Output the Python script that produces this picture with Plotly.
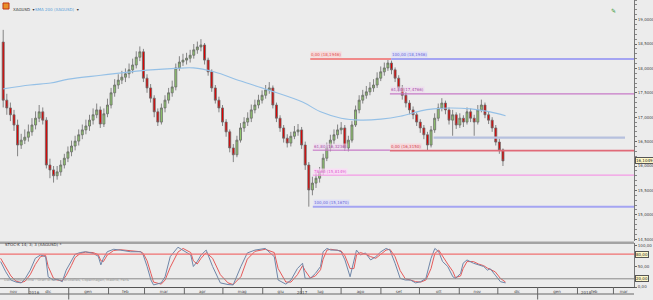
import pandas as pd
import plotly.graph_objects as go

# ---------------- data ----------------
candle_dates = pd.date_range("2016-11-11", "2017-12-05", periods=140)
first_open = 18.54
closes = [17.35, 17.19, 17.05, 16.84, 16.43, 16.53, 16.59, 16.70, 16.84, 16.98,
          17.11, 16.94, 16.02, 15.92, 15.80, 15.88, 16.02, 16.16, 16.29, 16.41,
          16.51, 16.64, 16.74, 16.82, 16.94, 17.05, 17.15, 16.86, 17.07, 17.25,
          17.50, 17.66, 17.76, 17.82, 17.89, 17.97, 18.07, 18.23, 18.34, 17.80,
          17.60, 17.39, 17.11, 16.90, 17.19, 17.35, 17.50, 17.62, 18.01, 18.13,
          18.17, 18.21, 18.27, 18.38, 18.44, 18.48, 18.17, 17.93, 17.60, 17.35,
          17.19, 16.90, 16.70, 16.37, 16.23, 16.53, 16.78, 16.90, 16.98, 17.15,
          17.25, 17.35, 17.45, 17.56, 17.60, 17.25, 16.98, 16.78, 16.57, 16.47,
          16.61, 16.70, 16.74, 16.43, 16.02, 15.51, 15.65, 15.75, 15.88, 16.16,
          16.37, 16.53, 16.64, 16.74, 16.78, 16.37, 16.53, 16.84, 17.15, 17.35,
          17.45, 17.52, 17.60, 17.66, 17.80, 17.93, 18.01, 18.11, 17.97, 17.80,
          17.60, 17.45, 17.29, 17.15, 17.05, 16.90, 16.78, 16.64, 16.43, 16.74,
          16.98, 17.19, 17.29, 17.15, 16.94, 17.05, 16.84, 16.98, 16.90, 17.11,
          16.98, 16.90, 17.15, 17.25, 17.05, 16.94, 16.78, 16.49, 16.33, 16.1049]
highs = [18.79, 17.48, 17.30, 17.15, 16.95, 16.66, 16.75, 16.85, 16.98, 17.12,
         17.25, 17.20, 17.00, 16.15, 16.00, 16.00, 16.12, 16.25, 16.40, 16.52,
         16.62, 16.75, 16.85, 16.95, 17.05, 17.18, 17.28, 17.22, 17.18, 17.38,
         17.60, 17.78, 17.88, 17.95, 18.00, 18.10, 18.20, 18.35, 18.45, 18.40,
         17.88, 17.68, 17.45, 17.18, 17.28, 17.45, 17.60, 17.75, 18.10, 18.25,
         18.30, 18.32, 18.38, 18.50, 18.55, 18.60, 18.52, 18.22, 17.98, 17.66,
         17.42, 17.25, 16.96, 16.75, 16.45, 16.62, 16.88, 17.00, 17.10, 17.26,
         17.36, 17.46, 17.55, 17.66, 17.72, 17.65, 17.30, 17.04, 16.84, 16.65,
         16.70, 16.82, 16.86, 16.80, 16.50, 16.08, 15.78, 15.86, 15.98, 16.25,
         16.48, 16.64, 16.75, 16.85, 16.90, 16.84, 16.62, 16.92, 17.24, 17.45,
         17.56, 17.64, 17.72, 17.78, 17.92, 18.04, 18.12, 18.1946, 18.16, 18.02,
         17.86, 17.66, 17.52, 17.35, 17.22, 17.10, 16.96, 16.84, 16.70, 16.82,
         17.08, 17.28, 17.39, 17.34, 17.20, 17.15, 17.10, 17.08, 17.04, 17.20,
         17.18, 17.05, 17.25, 17.36, 17.30, 17.12, 17.00, 16.84, 16.56, 16.36]
lows = [17.20, 17.05, 16.92, 16.72, 16.20, 16.35, 16.45, 16.50, 16.62, 16.75,
        16.90, 16.85, 15.95, 15.75, 15.66, 15.72, 15.80, 15.95, 16.08, 16.20,
        16.32, 16.42, 16.55, 16.65, 16.72, 16.85, 16.98, 16.78, 16.80, 17.00,
        17.18, 17.42, 17.58, 17.68, 17.72, 17.80, 17.90, 18.00, 18.15, 17.72,
        17.50, 17.30, 17.00, 16.82, 16.85, 17.10, 17.28, 17.42, 17.55, 17.95,
        18.05, 18.08, 18.12, 18.20, 18.30, 18.35, 18.08, 17.85, 17.52, 17.28,
        17.10, 16.82, 16.60, 16.28, 16.08, 16.18, 16.48, 16.70, 16.82, 16.90,
        17.08, 17.18, 17.28, 17.38, 17.48, 17.18, 16.90, 16.70, 16.48, 16.38,
        16.40, 16.55, 16.62, 16.35, 15.92, 15.167, 15.40, 15.55, 15.66, 15.82,
        16.10, 16.30, 16.45, 16.56, 16.65, 16.31, 16.30, 16.48, 16.80, 17.08,
        17.28, 17.38, 17.45, 17.52, 17.60, 17.74, 17.85, 17.95, 17.88, 17.72,
        17.52, 17.36, 17.20, 17.06, 16.96, 16.82, 16.68, 16.55, 16.315, 16.38,
        16.68, 16.92, 17.12, 17.06, 16.85, 16.62, 16.76, 16.78, 16.80, 16.85,
        16.90, 16.62, 16.85, 17.10, 16.98, 16.86, 16.70, 16.42, 16.25, 16.00]
opens = [first_open] + closes[:-1]

sma_dates = ["2016-11-11", "2016-12-02", "2016-12-18", "2017-01-01", "2017-01-26",
             "2017-02-18", "2017-03-06", "2017-03-25", "2017-04-08", "2017-04-24",
             "2017-05-15", "2017-06-05", "2017-07-02", "2017-07-16", "2017-08-01",
             "2017-08-16", "2017-09-01", "2017-09-16", "2017-10-02", "2017-10-12",
             "2017-10-25", "2017-11-10", "2017-11-25", "2017-12-07"]
sma_vals = [17.58, 17.66, 17.70, 17.78, 17.86, 17.93, 17.97, 18.00, 18.01, 17.93,
            17.74, 17.56, 17.31, 17.11, 16.98, 16.94, 16.96, 17.02, 17.13, 17.17,
            17.19, 17.17, 17.11, 17.03]

stoch_dates = ["2016-11-09", "2016-11-13", "2016-11-17", "2016-11-21", "2016-11-25", "2016-11-28", "2016-12-02", "2016-12-06", "2016-12-10", "2016-12-14",
               "2016-12-16", "2016-12-20", "2016-12-23", "2016-12-27", "2016-12-30", "2017-01-03", "2017-01-06", "2017-01-10", "2017-01-14", "2017-01-20",
               "2017-01-24", "2017-01-26", "2017-01-28", "2017-01-31", "2017-02-05", "2017-02-10", "2017-02-18", "2017-02-26", "2017-02-28", "2017-03-03",
               "2017-03-06", "2017-03-08", "2017-03-14", "2017-03-17", "2017-03-21", "2017-03-27", "2017-03-31", "2017-04-06", "2017-04-08", "2017-04-11",
               "2017-04-14", "2017-04-18", "2017-04-23", "2017-04-29", "2017-05-05", "2017-05-09", "2017-05-15", "2017-05-20", "2017-05-26", "2017-06-03",
               "2017-06-10", "2017-06-13", "2017-06-19", "2017-06-23", "2017-06-28", "2017-07-02", "2017-07-04", "2017-07-08", "2017-07-12", "2017-07-16",
               "2017-07-18", "2017-07-21", "2017-07-24", "2017-07-29", "2017-08-01", "2017-08-04", "2017-08-08", "2017-08-11", "2017-08-13", "2017-08-16",
               "2017-08-20", "2017-08-24", "2017-08-28", "2017-09-01", "2017-09-05", "2017-09-08", "2017-09-12", "2017-09-16", "2017-09-20", "2017-09-24",
               "2017-09-28", "2017-10-02", "2017-10-06", "2017-10-10", "2017-10-13", "2017-10-16", "2017-10-19", "2017-10-23", "2017-10-27", "2017-10-29",
               "2017-11-02", "2017-11-04", "2017-11-07", "2017-11-12", "2017-11-16", "2017-11-20", "2017-11-23", "2017-11-25", "2017-11-29", "2017-12-03",
               "2017-12-07"]
stoch_k = [62, 37, 17, 12, 10, 20, 41, 70, 78, 74,
           25, 17, 19, 13, 41, 62, 80, 84, 86, 82,
           75, 54, 70, 86, 92, 90, 86, 86, 78, 50,
           17, 5, 10, 25, 74, 97, 90, 78, 50, 62,
           78, 90, 50, 10, 6, 5, 50, 83, 90, 94,
           74, 17, 7, 17, 45, 58, 21, 21, 33, 50,
           86, 94, 90, 90, 86, 66, 25, 66, 90, 78,
           83, 66, 74, 86, 94, 90, 58, 21, 17, 17,
           10, 13, 21, 70, 94, 86, 62, 50, 25, 21,
           33, 58, 66, 58, 54, 50, 41, 45, 29, 13,
           10]
stoch_d = [70, 50, 27, 14, 11, 14, 30, 55, 74, 77,
           50, 22, 17, 15, 28, 52, 72, 82, 85, 84,
           79, 64, 62, 78, 89, 91, 88, 86, 82, 64,
           33, 12, 7, 17, 48, 85, 94, 84, 64, 56,
           70, 84, 70, 30, 10, 6, 25, 68, 87, 92,
           84, 45, 12, 12, 30, 52, 40, 22, 27, 42,
           68, 90, 92, 90, 88, 76, 45, 45, 78, 84,
           80, 74, 70, 80, 90, 92, 74, 40, 20, 17,
           13, 12, 17, 45, 82, 90, 74, 56, 38, 23,
           27, 45, 62, 62, 56, 52, 46, 43, 37, 21,
           12]

fib_labels = ["0,00 (18,1946)", "100,00 (18,1946)", "61,80 (17,4766)", "61,80 (16,3236)",
              "0,00 (16,3150)", "78,60 (15,8149)", "100,00 (15,1670)"]
fib_values = [18.1946, 18.1946, 17.4766, 16.3236, 16.3150, 15.8149, 15.1670]
fib_start = ["2017-07-08", "2017-09-09", "2017-09-08", "2017-07-10", "2017-09-08", "2017-07-10", "2017-07-10"]
fib_end = ["2017-09-09", "2018-03-25", "2018-03-25", "2017-09-08", "2018-03-25", "2018-03-25", "2018-03-25"]
fib_colors = ["#f08a8a", "#a4a4f2", "#c77ac7", "#c77ac7", "#e06a78", "#f49ae6", "#a4a4f2"]
fib_text_colors = ["#e05050", "#6a6ad8", "#a850a8", "#a850a8", "#d04050", "#e060d0", "#6a6ad8"]
fib_widths = [2, 2, 1.3, 1.3, 1.8, 1.3, 2]
fib_bg = ["rgba(255,205,205,0.6)", "rgba(215,215,255,0.6)", "rgba(240,215,240,0.6)", "rgba(240,215,240,0.6)",
          "rgba(255,205,210,0.6)", "rgba(255,215,250,0.7)", "rgba(215,215,255,0.6)"]

support_dates = ["2017-10-12", "2018-03-10"]
support_value = 16.58

last_price_label = "16,1049"

month_labels = ["nov", "dic", "gen", "feb", "mar", "apr", "mag", "giu", "lug", "ago",
                "set", "ott", "nov", "dic", "gen", "feb", "mar"]
month_centers = ["2016-11-19", "2016-12-16", "2017-01-16", "2017-02-14", "2017-03-16", "2017-04-15",
                 "2017-05-16", "2017-06-15", "2017-07-16", "2017-08-16", "2017-09-15", "2017-10-16",
                 "2017-11-15", "2017-12-16", "2018-01-16", "2018-02-14", "2018-03-09"]
month_starts = ["2016-12-01", "2017-01-01", "2017-02-01", "2017-03-01", "2017-04-01", "2017-05-01",
                "2017-06-01", "2017-07-01", "2017-08-01", "2017-09-01", "2017-10-01", "2017-11-01",
                "2017-12-01", "2018-01-01", "2018-02-01", "2018-03-01"]
year_labels = ["2016", "2017", "2018"]
year_centers = ["2016-12-05", "2017-07-02", "2018-02-08"]
year_starts = ["2017-01-01", "2018-01-01"]

x_range = ["2016-11-08 12:00", "2018-03-17"]

# ---------------- figure ----------------
H_PLOT = 287.0  # plot-area height in px
def py(px):  # px from top -> paper y
    return (H_PLOT - px) / H_PLOT

FONT = "DejaVu Sans"
BG = "#ececec"
fig = go.Figure()

fig.add_trace(go.Candlestick(
    x=candle_dates, open=opens, high=highs, low=lows, close=closes,
    xaxis="x", yaxis="y", showlegend=False, whiskerwidth=0,
    increasing=dict(fillcolor="#8fc66c", line=dict(color="#6a6a6a", width=0.8)),
    decreasing=dict(fillcolor="#e00000", line=dict(color="#6a6a6a", width=0.8)),
    hoverinfo="skip"))

fig.add_trace(go.Scatter(x=sma_dates, y=sma_vals, mode="lines", xaxis="x", yaxis="y",
                         line=dict(color="#95c0e6", width=1.1, shape="spline"),
                         showlegend=False, hoverinfo="skip"))

for lab, v, s, e, c, tc, w, bg in zip(fib_labels, fib_values, fib_start, fib_end, fib_colors,
                                       fib_text_colors, fib_widths, fib_bg):
    fig.add_trace(go.Scatter(x=[s, e], y=[v, v], mode="lines", xaxis="x", yaxis="y",
                             line=dict(color=c, width=w), showlegend=False, hoverinfo="skip"))
    fig.add_annotation(x=s, y=v, xref="x", yref="y", text=lab, showarrow=False,
                       xanchor="left", yanchor="bottom", yshift=0.5, bgcolor=bg, borderpad=0,
                       font=dict(size=4, color=tc, family=FONT))

fig.add_trace(go.Scatter(x=support_dates, y=[support_value, support_value], mode="lines",
                         xaxis="x", yaxis="y", line=dict(color="#b6c0de", width=2.2),
                         showlegend=False, hoverinfo="skip"))

fig.add_trace(go.Scatter(x=stoch_dates, y=stoch_d, mode="lines", xaxis="x2", yaxis="y2",
                         line=dict(color="#e65a5a", width=1), showlegend=False, hoverinfo="skip"))
fig.add_trace(go.Scatter(x=stoch_dates, y=stoch_k, mode="lines", xaxis="x2", yaxis="y2",
                         line=dict(color="#6f86a8", width=1), showlegend=False, hoverinfo="skip"))

# stochastic guide levels
fig.add_shape(type="line", xref="paper", yref="y2", x0=0, x1=1, y0=80, y1=80,
              line=dict(color="#f07070", width=1.2))
fig.add_shape(type="line", xref="paper", yref="y2", x0=0, x1=1, y0=20, y1=20,
              line=dict(color="#8a8a8a", width=1))
# panel separator
fig.add_shape(type="line", xref="paper", yref="paper", x0=0, x1=1, y0=py(243), y1=py(243),
              line=dict(color="#5a5a5a", width=1))
fig.add_shape(type="line", xref="paper", yref="paper", x0=0, x1=1, y0=py(241.5), y1=py(241.5),
              line=dict(color="#c8c8c8", width=1))

# bottom date strip
strip_mid = py(294)
strip_bot = py(299.5)
fig.add_shape(type="line", xref="paper", yref="paper", x0=0, x1=1, y0=strip_mid, y1=strip_mid,
              line=dict(color="#666", width=1))
for ms in month_starts:
    fig.add_shape(type="line", xref="x2", yref="paper", x0=ms, x1=ms, y0=0, y1=strip_mid,
                  line=dict(color="#666", width=1))
for ys in year_starts:
    fig.add_shape(type="line", xref="x2", yref="paper", x0=ys, x1=ys, y0=strip_mid, y1=strip_bot,
                  line=dict(color="#666", width=1))
for yl, yc in zip(year_labels, year_centers):
    fig.add_annotation(x=yc, xref="x2", y=py(297.2), yref="paper", text=yl, showarrow=False,
                       font=dict(size=4, color="#444", family=FONT))

# header
fig.add_shape(type="rect", xref="paper", yref="paper", x0=3 / 634, x1=9 / 634, y0=py(9), y1=py(3),
              fillcolor="#e8902a", line=dict(color="#c03010", width=1))
fig.add_annotation(x=11 / 634, y=py(5.5), xref="paper", yref="paper", text="XAGUSD  ▾",
                   showarrow=False, xanchor="left", font=dict(size=4, color="#333", family=FONT))
fig.add_annotation(x=33 / 634, y=py(5.5), xref="paper", yref="paper",
                   text="SMA 200 (XAGUSD)  <span style='color:#333'>▾</span>",
                   showarrow=False, xanchor="left", font=dict(size=4, color="#5a9fd8", family=FONT))
fig.add_annotation(x=618 / 634, y=py(5.5), xref="paper", yref="paper", text="✎",
                   showarrow=False, font=dict(size=6, color="#3a9a3a", family=FONT))
fig.add_annotation(x=3 / 634, y=py(248.5), xref="paper", yref="paper", text="STOC-K 14; 3; 3 (XAGUSD) *",
                   showarrow=False, xanchor="left", font=dict(size=4, color="#333", family=FONT))
fig.add_annotation(x=2 / 634, y=py(283.5), xref="paper", yref="paper",
                   text="Dati ProRealTime - Orari di borsa: Bruxelles, Copenhagen, Madrid, Paris",
                   showarrow=False, xanchor="left", font=dict(size=3.5, color="#9a9a9a", family=FONT))

# price box and stoch level boxes
fig.add_annotation(x=1.0, xref="paper", y=closes[-1], yref="y", text=last_price_label, showarrow=False,
                   xanchor="left", xshift=1, bgcolor="#fff8c8", bordercolor="#555", borderwidth=1, borderpad=0,
                   font=dict(size=4, color="#222", family=FONT))
for lv in [80, 20]:
    fig.add_annotation(x=1.0, xref="paper", y=lv, yref="y2", text=f"{lv},00", showarrow=False,
                       xanchor="left", xshift=1, bgcolor="#fff8c8", bordercolor="#555", borderwidth=1, borderpad=0,
                       font=dict(size=4, color="#222", family=FONT))

axis_font = dict(size=4, color="#444", family=FONT)
fig.update_layout(
    width=653, height=300,
    margin=dict(l=0, r=19, t=0, b=13, autoexpand=False),
    paper_bgcolor=BG, plot_bgcolor=BG,
    separators=",.",
    showlegend=False,
    boxgap=0.2,
    xaxis=dict(domain=[0, 1], anchor="y", range=x_range, type="date", showticklabels=False,
               showgrid=False, zeroline=False, rangeslider=dict(visible=False), automargin=False),
    yaxis=dict(domain=[py(241), 1], anchor="x", side="right", range=[14.463, 19.402],
               tick0=14.5, dtick=0.5, tickformat=".4f", ticks="outside", ticklen=2, tickcolor="#666",
               tickfont=axis_font, showgrid=False, zeroline=False, showline=True, linecolor="#777",
               minor=dict(dtick=0.1, ticks="outside", ticklen=1.5, tickcolor="#888"), automargin=False),
    xaxis2=dict(domain=[0, 1], anchor="y2", range=x_range, type="date", tickmode="array",
                tickvals=month_centers, ticktext=month_labels, ticks="", tickfont=axis_font,
                showgrid=False, zeroline=False, showline=True, linecolor="#555", automargin=False),
    yaxis2=dict(domain=[0, py(243)], anchor="x2", side="right", range=[0, 107.3],
                tickmode="array", tickvals=[0, 50, 100], ticktext=["0,00", "50,00", "100,00"],
                ticks="outside", ticklen=2, tickcolor="#666", tickfont=axis_font, showgrid=False,
                zeroline=False, showline=True, linecolor="#777", automargin=False),
)

fig.write_html("out.html")
